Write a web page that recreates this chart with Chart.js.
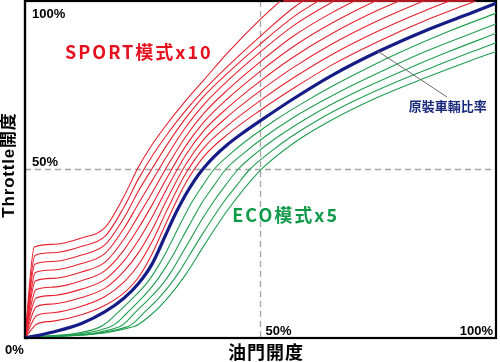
<!DOCTYPE html>
<html><head><meta charset="utf-8">
<script src="https://cdn.jsdelivr.net/npm/chart.js@4.4.1/dist/chart.umd.min.js"></script>
<style>html,body{margin:0;padding:0;background:#fff;}#wrap{width:500px;height:362px;position:relative;}</style>
</head><body><div id="wrap"><canvas id="c" width="500" height="362"></canvas></div>
<script>
// ---- data (x = 油門開度 %, y = Throttle開度 %) ----
const stock = [[0,0],[6,1.8],[12,4.3],[17,7.8],[21,11.8],[24,16],[27,22],[30,31],[32,37],[34,42.3],[36,46.8],[38,50.5],[40,53.6],[43,57.4],[46,60.6],[50,64.5],[57,71],[65,77.8],[75,85],[85,91.2],[95,96.6],[100,99.3]];

const sport1 = [[0,0],[2.6,4.2],[6,5],[12,6.9],[17,9.7],[21,13.4],[24,17.8],[27,25],[30,34.2],[34,45.7],[38,53.9],[43,60.4],[50,67.6],[57,74.1],[65,80.9],[75,88],[85,94.2],[95,99.6],[100,102.3]];
const sport2 = [[0,0],[2.5,6.7],[6,7.5],[12,9.4],[17,12.3],[21,16.6],[24,21.5],[27,28.6],[30,37.5],[34,48.5],[38,56.5],[43,63],[50,70.5],[57,77.2],[65,84],[75,91.1],[85,97.2],[95,102.6]];
const sport3 = [[0,0],[2.4,9.3],[6,10.1],[12,12],[17,14.8],[21,19.8],[24,25.1],[27,32.2],[30,40.7],[34,51.2],[38,59],[43,65.7],[50,73.4],[57,80.3],[65,87.1],[75,94.2],[85,100.2],[95,105.6]];
const sport4 = [[0,0],[2.3,11.8],[6,12.6],[12,14.5],[17,17.4],[21,22.9],[24,28.8],[27,35.9],[30,44],[34,54],[38,61.6],[43,68.3],[50,76.3],[57,83.4],[65,90.2],[75,97.3],[85,103.2]];
const sport5 = [[0,0],[2.3,14.3],[6,15.1],[12,17],[17,20],[21,26.1],[24,32.4],[27,39.5],[30,47.2],[34,56.7],[38,64.1],[43,71],[50,79.2],[57,86.5],[65,93.3],[75,100.4],[85,106.4]];
const sport6 = [[0,0],[2.2,16.9],[6,17.7],[12,19.6],[17,22.5],[21,29.3],[24,36.1],[27,43.1],[30,50.5],[34,59.5],[38,66.7],[43,73.6],[50,82],[57,89.6],[65,96.4],[75,103.5]];
const sport7 = [[0,0],[2.2,19.4],[6,20.2],[12,22.1],[17,25.1],[21,32.5],[24,39.7],[27,46.7],[30,53.7],[34,62.3],[38,69.3],[43,76.3],[50,84.9],[57,92.7],[65,99.5],[75,106.6]];
const sport8 = [[0,0],[2.1,21.9],[6,22.7],[12,24.6],[17,27.7],[21,35.6],[24,43.4],[27,50.3],[30,57],[34,65],[38,71.8],[43,78.6],[50,87.3],[57,95.3],[65,102.3]];
const sport9 = [[0,0],[2.1,24.5],[6,25.3],[12,27.2],[17,30.2],[21,38.8],[24,47],[27,54],[30,60.1],[34,67.3],[38,73.6],[43,80.6],[50,89.6],[57,98],[65,105.2]];
const sport10 = [[0,0],[2,27],[6,27.8],[12,29.7],[17,32.8],[21,42],[24,50.5],[27,57.4],[30,63.2],[34,70.2],[38,76.6],[43,84.6],[50,94.6],[57,103.5]];
const sportTop = [[54.8,100],[95.2,100]];   // red curves running along the 100% limit

const eco1 = [[0,0],[15.5,3],[17.5,4.7],[19.5,7.3],[23,12],[25.7,16],[27.7,20],[29.8,25],[31.6,30],[33.4,35],[35.3,40],[37.6,45],[40.1,50],[43.9,55],[48.4,60],[53.5,65],[59.3,70],[65.6,75],[72.5,80],[80,85],[90,91],[100,96.4]];
const eco2 = [[0,0],[17.7,3.1],[19.5,4.5],[21.5,7.2],[24.8,11.8],[27.4,16],[29.4,20],[31.6,25],[33.5,30],[35.5,35],[37.5,40],[40,45],[42.6,50],[46.6,55],[51.2,60],[56.5,65],[62.7,70],[69.5,75],[77,80],[85,85],[92,88.9],[100,93.2]];
const eco3 = [[0,0],[19.8,3.2],[21.5,4.8],[23.4,7.6],[26.6,12],[29.2,16],[31.2,20],[33.3,25],[35.4,30],[37.5,35],[39.8,40],[42.4,45],[45.2,50],[49.2,55],[54,60],[59.6,65],[66,70],[73.3,75],[81.4,80],[90,85],[100,90.4]];
const eco4 = [[0,0],[21.7,3.3],[23.5,5],[25.5,7.8],[28.5,12],[30.9,16],[32.9,20],[35.1,25],[37.3,30],[39.6,35],[42,40],[44.8,45],[47.7,50],[51.9,55],[56.8,60],[62.6,65],[69.4,70],[77.2,75],[85.9,80],[95,85],[100,87.6]];
const eco5 = [[0,0],[23.3,3.5],[27,7.2],[30,11.4],[34,18.6],[38,27.4],[43,37.9],[50,49.8],[57,57.8],[65,64.6],[75,71.5],[85,77.2],[95,82.5],[100,85]];

const sportCurves = [sport1,sport2,sport3,sport4,sport5,sport6,sport7,sport8,sport9,sport10];
const ecoCurves = [eco1,eco2,eco3,eco4,eco5];

const xTickLabels = ['50%','100%'];
const yTickLabels = ['0%','50%','100%'];
const xTitle = '油門開度';
const yTitle = 'Throttle開度';
const sportLabel = 'SPORT模式x10';
const ecoLabel = 'ECO模式x5';
const stockLabel = '原裝車輛比率';

// ---- styles ----
const RED = '#e8202e', GREEN = '#1f9e4f', NAVY = '#161c86';
const CJK = '"Noto Sans CJK TC","Noto Sans CJK SC",sans-serif';
const ARIAL = '"Liberation Sans",Arial';

function ds(pts, color, width, smooth){
  return {data: pts.map(p=>({x:p[0],y:p[1]})), borderColor:color, borderWidth:width,
    pointRadius:0, fill:false, cubicInterpolationMode: smooth ? 'monotone' : 'default', tension:0,
    clip:{left:3, top:0, right:3, bottom:3}};
}
const datasets = [ds(stock, NAVY, 3.2, true)]
  .concat(ecoCurves.map(c=>ds(c, GREEN, 1.1, true)))
  .concat(sportCurves.map(c=>ds(c, RED, 1.1, true)))
  .concat([Object.assign(ds(sportTop, RED, 1.6, false), {clip:3})]);

const framePlugin = {
  id:'frame',
  beforeDatasetsDraw(chart){
    const {ctx, chartArea:a, scales:{x,y}} = chart;
    ctx.save();
    ctx.strokeStyle = '#a3a3a3'; ctx.lineWidth = 1.3; ctx.setLineDash([6,4]);
    ctx.beginPath();
    ctx.moveTo(x.getPixelForValue(50), a.top); ctx.lineTo(x.getPixelForValue(50), a.bottom);
    ctx.moveTo(a.left, y.getPixelForValue(50)); ctx.lineTo(a.right, y.getPixelForValue(50));
    ctx.stroke();
    ctx.setLineDash([]);
    ctx.strokeStyle = '#000'; ctx.lineWidth = 2.2;
    ctx.strokeRect(a.left, a.top, a.right-a.left, a.bottom-a.top);
    ctx.restore();
  },
  afterDatasetsDraw(chart){
    const {ctx, chartArea:a, scales:{x,y}} = chart;
    const X = v=>x.getPixelForValue(v), Y = v=>y.getPixelForValue(v);
    ctx.save();
    ctx.strokeStyle = '#000'; ctx.lineWidth = 2.2;
    ctx.beginPath(); ctx.moveTo(a.left, a.top); ctx.lineTo(a.left, a.bottom); ctx.lineTo(a.right, a.bottom); ctx.stroke();
    // leader line
    ctx.strokeStyle = '#6a6a6a'; ctx.lineWidth = 1;
    ctx.beginPath(); ctx.moveTo(X(74.8), Y(85.2)); ctx.lineTo(X(89.6), Y(71.5)); ctx.stroke();
    // tick labels
    ctx.fillStyle = '#000'; ctx.font = 'bold 13px '+ARIAL+',sans-serif'; ctx.textBaseline = 'alphabetic';
    ctx.textAlign = 'left';
    ctx.fillText(yTickLabels[2], a.left+7, Y(100)+17);
    ctx.fillText(yTickLabels[1], a.left+7, Y(50)-4);
    ctx.fillText(yTickLabels[0], 5, a.bottom+16);
    ctx.fillText(xTickLabels[0], X(50)+5, a.bottom-3);
    ctx.textAlign = 'right';
    ctx.fillText(xTickLabels[1], a.right-3, a.bottom-3);
    // axis titles
    ctx.textAlign = 'center'; ctx.textBaseline = 'middle';
    ctx.font = 'bold 18px '+CJK;
    ctx.letterSpacing = '1px';
    ctx.fillText(xTitle, 266, a.bottom+14);
    ctx.save();
    ctx.translate(9, 165); ctx.rotate(-Math.PI/2);
    ctx.font = 'bold 17px '+ARIAL+','+CJK;
    ctx.letterSpacing = '0.8px';
    ctx.fillText(yTitle, 0, 0);
    ctx.restore();
    // series labels
    ctx.textAlign = 'left';
    ctx.letterSpacing = '2px';
    ctx.font = 'bold 18px '+CJK;
    ctx.fillStyle = '#e60f1e';
    ctx.fillText(sportLabel, X(8.5), Y(84.9));
    ctx.fillStyle = '#0f9a48';
    ctx.fillText(ecoLabel, X(44), Y(36.5));
    ctx.letterSpacing = '0px';
    ctx.font = 'bold 13px '+CJK;
    ctx.fillStyle = '#1a2a7c';
    ctx.fillText(stockLabel, X(81.5), Y(68.8));
    ctx.restore();
  }
};

new Chart(document.getElementById('c'), {
  type:'line',
  data:{datasets},
  options:{
    responsive:false, animation:false,
    layout:{padding:{left:25,right:4,top:1,bottom:24}},
    plugins:{legend:{display:false}, tooltip:{enabled:false}},
    scales:{
      x:{type:'linear', min:0, max:100, display:false},
      y:{type:'linear', min:0, max:100, display:false}
    }
  },
  plugins:[framePlugin]
});
</script>
</body></html>
